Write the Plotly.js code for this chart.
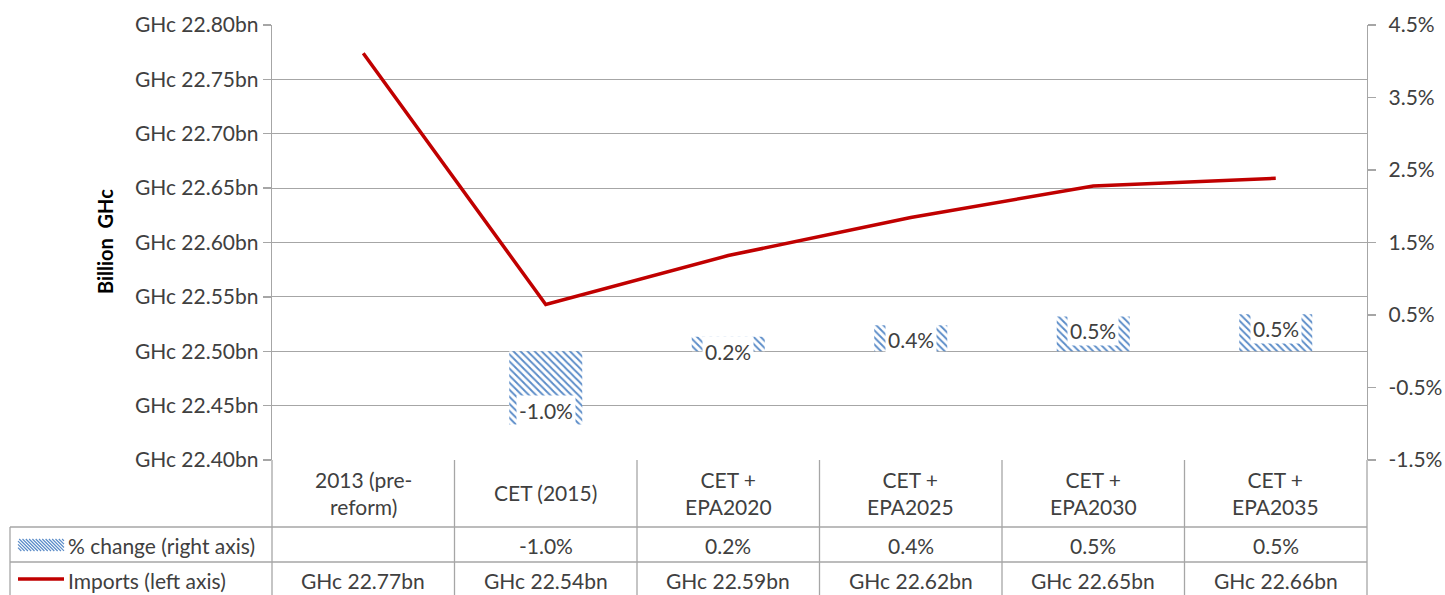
<!DOCTYPE html>
<html>
<head>
<meta charset="utf-8">
<script src="https://cdn.plot.ly/plotly-3.0.1.min.js"></script>
<style>html,body{margin:0;padding:0;background:#fff;}#chart{width:1445px;height:595px;}</style>
</head>
<body>
<div id="chart"></div>
<script>
// ---- data ----
const categories = ['2013 (pre-reform)', 'CET (2015)', 'CET + EPA2020', 'CET + EPA2025', 'CET + EPA2030', 'CET + EPA2035'];
const categoryLabels = ['2013 (pre-<br>reform)', 'CET (2015)', 'CET +<br>EPA2020', 'CET +<br>EPA2025', 'CET +<br>EPA2030', 'CET +<br>EPA2035'];
const importsBn = [22.774, 22.543, 22.588, 22.623, 22.652, 22.659];
const pctChange = [null, -1.01, 0.20, 0.36, 0.48, 0.51];
const pctTicks = [-1.5, -0.5, 0.5, 1.5, 2.5, 3.5, 4.5];
const seriesNames = ['% change (right axis)', 'Imports (left axis)'];
const yAxisTitle = 'Billion\u00a0 GHc';

// ---- styling / geometry ----
const FONT = 'Lato, "Open Sans", Arial, sans-serif';
const TXT = '#404040';
const GRID = '#a6a6a6';
const BLUE = '#4f81bd';
const RED = '#c00000';
const W = 1445, H = 595;
const M = {l: 272, r: 78, t: 25, b: 135};
const PW = W - M.l - M.r, PH = H - M.t - M.b;
const px = x => (x - M.l) / PW;
const py = y => (H - M.b - y) / PH;

const fmtPct = v => v.toFixed(1) + '%';
const fmtBn = v => 'GHc ' + v.toFixed(2) + 'bn';

const traces = [
  {
    type: 'bar', name: seriesNames[0], x: categories, y: pctChange, yaxis: 'y2',
    width: 0.4,
    marker: {color: BLUE, line: {width: 0},
      pattern: {shape: '\\', fgcolor: '#5b8cc8', bgcolor: 'white', size: 5, solidity: 0.38, fillmode: 'replace'}},
    hoverinfo: 'skip'
  },
  {
    type: 'scatter', mode: 'lines', name: seriesNames[1], x: categories, y: importsBn, yaxis: 'y',
    line: {color: RED, width: 3.5}, hoverinfo: 'skip'
  }
];

const annotations = [];
const shapes = [];

// y axis title
annotations.push({xref: 'paper', yref: 'paper', x: px(105), y: py(242), text: yAxisTitle, textangle: -90,
  showarrow: false, xanchor: 'center', yanchor: 'middle', font: {family: FONT, size: 20, color: '#000', weight: 'bold'}});

// data labels
pctChange.forEach((v, i) => {
  if (v === null) return;
  annotations.push({xref: 'x', yref: 'y2', x: categories[i], y: v, text: fmtPct(v), showarrow: false,
    xanchor: 'center', yanchor: v < 0 ? 'bottom' : 'top', yshift: v < 0 ? -2 : 1,
    bgcolor: 'white', borderpad: 2, font: {family: FONT, size: 21, color: TXT}});
});

// data table: header labels and values
categories.forEach((c, i) => {
  annotations.push({xref: 'x', yref: 'paper', x: c, y: py(493), text: categoryLabels[i], showarrow: false,
    xanchor: 'center', yanchor: 'middle', font: {family: FONT, size: 21, color: TXT}});
  if (pctChange[i] !== null) {
    annotations.push({xref: 'x', yref: 'paper', x: c, y: py(545), text: fmtPct(pctChange[i]), showarrow: false,
      xanchor: 'center', yanchor: 'middle', font: {family: FONT, size: 21, color: TXT}});
  }
  annotations.push({xref: 'x', yref: 'paper', x: c, y: py(580), text: fmtBn(importsBn[i]), showarrow: false,
    xanchor: 'center', yanchor: 'middle', font: {family: FONT, size: 21, color: TXT}});
});
annotations.push({xref: 'paper', yref: 'paper', x: px(66), y: py(545), text: seriesNames[0], showarrow: false,
  xanchor: 'left', yanchor: 'middle', font: {family: FONT, size: 21, color: TXT}});
annotations.push({xref: 'paper', yref: 'paper', x: px(66), y: py(580), text: seriesNames[1], showarrow: false,
  xanchor: 'left', yanchor: 'middle', font: {family: FONT, size: 21, color: TXT}});

// table lines
const lineStyle = {color: GRID, width: 1.3};
[527, 562].forEach(yy => shapes.push({type: 'line', xref: 'paper', yref: 'paper', x0: px(10), x1: 1, y0: py(yy), y1: py(yy), line: lineStyle, layer: 'above'}));
shapes.push({type: 'line', xref: 'paper', yref: 'paper', x0: px(10), x1: px(10), y0: py(527), y1: py(600), line: lineStyle});
shapes.push({type: 'line', xref: 'paper', yref: 'paper', x0: 0, x1: 0, y0: 0, y1: py(600), line: lineStyle});
shapes.push({type: 'line', xref: 'paper', yref: 'paper', x0: 1, x1: 1, y0: 0, y1: py(600), line: lineStyle});
for (let i = 0; i < categories.length - 1; i++) {
  shapes.push({type: 'line', xref: 'x', yref: 'paper', x0: i + 0.5, x1: i + 0.5, y0: 0, y1: py(600), line: lineStyle});
}

// legend keys in table
(function hatch(x0, x1, y0, y1, step) {
  let d = '';
  for (let c = x0 - y1; c <= x1 - y0; c += step) {
    const xa = Math.max(x0, c + y0), xb = Math.min(x1, c + y1);
    if (xb <= xa) continue;
    d += `M${px(xa)},${py(xa - c)}L${px(xb)},${py(xb - c)}`;
  }
  shapes.push({type: 'path', xref: 'paper', yref: 'paper', path: d, line: {color: '#5b8cc8', width: 1.2}});
})(18, 64, 539, 551, 3.3);
shapes.push({type: 'line', xref: 'paper', yref: 'paper', x0: px(18), x1: px(64), y0: py(579), y1: py(579), line: {color: RED, width: 3.5}});

const layout = {
  width: W, height: H,
  margin: M,
  paper_bgcolor: 'white', plot_bgcolor: 'white',
  showlegend: false,
  font: {family: FONT, size: 21, color: TXT},
  xaxis: {type: 'category', range: [-0.5, categories.length - 0.5], showticklabels: false, ticks: '',
    showgrid: false, zeroline: false, showline: false, fixedrange: true},
  yaxis: {range: [22.40, 22.80], tick0: 22.40, dtick: 0.05, tickformat: '.2f', tickprefix: 'GHc ', ticksuffix: 'bn',
    showgrid: true, gridcolor: GRID, gridwidth: 1.2, zeroline: false,
    showline: true, linecolor: GRID, linewidth: 1.3, ticks: 'outside', ticklen: 8, tickcolor: GRID, tickwidth: 1.3,
    tickfont: {family: FONT, size: 21, color: TXT}},
  yaxis2: {overlaying: 'y', side: 'right', range: [-1.5, 4.5],
    tickmode: 'array', tickvals: pctTicks, ticktext: pctTicks.map(fmtPct),
    showgrid: false, zeroline: false, showline: true, linecolor: GRID, linewidth: 1.3,
    ticks: 'outside', ticklen: 8, tickcolor: GRID, tickwidth: 1.3, ticklabelstandoff: 8,
    tickfont: {family: FONT, size: 21, color: TXT}},
  annotations: annotations,
  shapes: shapes
};

Plotly.newPlot('chart', traces, layout, {displayModeBar: false, staticPlot: true});
</script>
</body>
</html>
